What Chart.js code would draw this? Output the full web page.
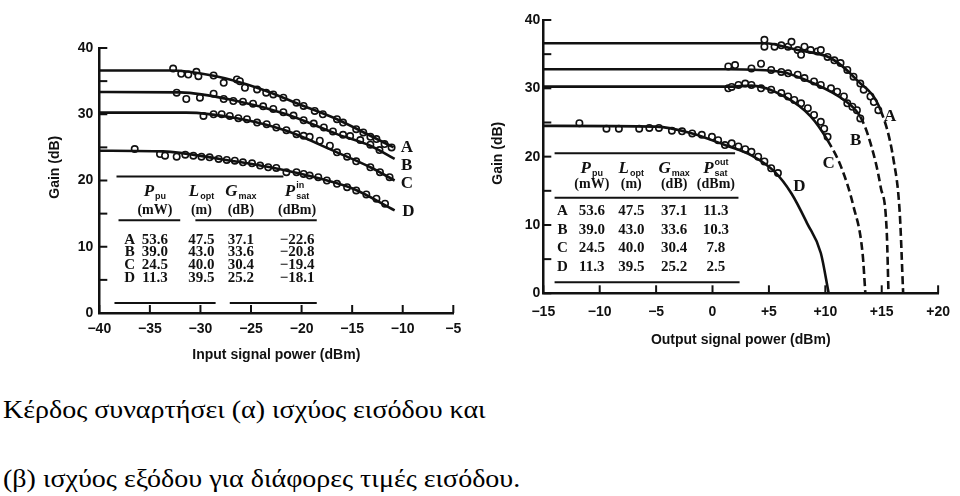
<!DOCTYPE html>
<html>
<head>
<meta charset="utf-8">
<script src="https://cdn.jsdelivr.net/npm/chart.js@4"></script>
<style>
  body { margin: 0; background: #fff; width: 960px; height: 496px; position: relative; overflow: hidden; }
  .box { position: absolute; }
  #boxIn { left: 20px; top: 30px; width: 460px; height: 350px; }
  #boxOut { left: 480px; top: 0; width: 480px; height: 370px; }
  .cap { position: absolute; left: 3px; font-family: 'Liberation Serif', 'Times New Roman', serif; font-size: 25px; line-height: 25px; color: #000; white-space: nowrap; transform: scaleX(1.12); transform-origin: left top; }
</style>
</head>
<body>
<div class="box" id="boxIn"><canvas id="gainIn"></canvas></div>
<div class="box" id="boxOut"><canvas id="gainOut"></canvas></div>
<div class="cap" style="top:397px">Κέρδος συναρτήσει (α) ισχύος εισόδου και</div>
<div class="cap" style="top:466px">(β) ισχύος εξόδου για διάφορες τιμές εισόδου.</div>
<script>
const curveNames = ['A', 'B', 'C', 'D'];
const gainTickLabels = ['0', '', '10', '', '20', '', '30', '', '40'];

// (α) gain vs input signal power
const inTickLabels = ['−40', '−35', '−30', '−25', '−20', '−15', '−10', '−5'];
const inLineA = [[-40, 36.6], [-33, 36.6], [-28.7, 35.8], [-24.4, 34], [-19.8, 31.25], [-16.5, 29.25], [-13.2, 26.75], [-10.9, 25]];
const inLineB = [[-40, 33.35], [-32, 33.3], [-26.4, 32], [-21.5, 30], [-16.5, 27], [-13.2, 25.25], [-10.8, 23.25]];
const inLineC = [[-40, 30.25], [-31.4, 30.25], [-26.4, 29.4], [-21.5, 27.5], [-16.5, 24.25], [-13.2, 22], [-10.8, 20]];
const inLineD = [[-40, 24.5], [-33.7, 24.4], [-28.1, 23.25], [-23.1, 22], [-18.1, 20.25], [-14.9, 18.75], [-10.8, 15.5]];
const inDotsA = [[-32.7, 36.9], [-31.9, 36.1], [-31.2, 36], [-30.4, 36.4], [-30.2, 35.75], [-28.7, 35.85], [-27.7, 34.75], [-26.4, 35.25], [-26.1, 35], [-25.6, 34], [-24.4, 33.75], [-23.5, 33.25], [-22.8, 33], [-21.8, 32.5], [-20.5, 31.75], [-19.8, 31.25], [-18.7, 30.5], [-17.9, 30], [-16.5, 29.25], [-15.9, 28.75], [-14.6, 27.75], [-13.9, 27.25], [-13.2, 26.6], [-12.6, 26.25], [-11.8, 25.5], [-11.1, 25]];
const inDotsB = [[-32.35, 33.25], [-31.4, 32.3], [-30.05, 32.5], [-28.7, 33.1], [-27.7, 32.3], [-26.75, 32], [-25.8, 31.9], [-24.8, 31.6], [-23.8, 31.2], [-22.8, 30.8], [-21.8, 30.3], [-20.8, 29.8], [-19.8, 29.1], [-18.8, 28.6], [-17.8, 28], [-16.9, 27.4], [-15.9, 26.9], [-15.2, 26.7], [-14.2, 26.1], [-13.2, 25.4], [-12.3, 24.6]];
const inDotsC = [[-29.7, 29.75], [-28.7, 30], [-27.9, 30], [-27.1, 29.75], [-26.25, 29.4], [-25.4, 29.25], [-24.4, 28.75], [-23.45, 28.5], [-22.5, 28], [-21.5, 27.6], [-20.5, 27], [-19.8, 26.75], [-19.2, 26.6], [-18.2, 26], [-17.2, 25.25], [-16.5, 24.25], [-15.5, 23.6], [-14.6, 22.9], [-13.2, 22], [-12.25, 21.25], [-11.3, 20.5]];
const inDotsD = [[-36.5, 24.75], [-34, 24], [-33.5, 23.75], [-32.35, 23.6], [-31.5, 23.9], [-30.7, 23.75], [-29.9, 23.6], [-29.1, 23.5], [-28.2, 23.25], [-27.4, 23.1], [-26.6, 23], [-25.8, 22.75], [-24.9, 22.6], [-24.1, 22.25], [-23.3, 22], [-22.5, 21.9], [-21.5, 21.25], [-20.5, 21.25], [-19.8, 21], [-19.2, 20.75], [-18.35, 20.5], [-17.5, 20], [-16.5, 19.5], [-15.5, 19], [-14.6, 18.5], [-13.6, 17.9], [-12.6, 17.25], [-11.75, 16.5]];

// (β) gain vs output signal power
const outTickLabels = ['−15', '−10', '−5', '0', '+5', '+10', '+15', '+20'];
const outLineA = [[-15, 36.6], [4.6, 36.6], [7.55, 35.6], [10.5, 34.4], [12.8, 31.2], [14.9, 26.8], [16.05, 19.5], [16.6, 11.7], [16.9, 0]];
const outLineB = [[-15, 32.8], [1.4, 32.8], [6.1, 32.4], [9, 30.7], [11.65, 28.3], [13.1, 25.85], [14, 22], [14.9, 15.6], [15.45, 8.8], [15.6, 0]];
const outLineC = [[-15, 30.25], [1.5, 30.25], [3.45, 30.4], [6.4, 28.8], [8.7, 25.9], [10.2, 22.4], [11.4, 18.5], [12.5, 12.7], [13.3, 5.9], [13.55, 0]];
const outLineD = [[-15, 24.5], [-5, 24.4], [-1.8, 23.4], [1.1, 21.7], [3.45, 20.2], [5.5, 17.8], [7, 14.6], [8.4, 10.2], [9.6, 5.9], [10.3, 0]];
const outDashFrom = [14.9, 13.1, 10.2, null];
const outDotsA = [[4.6, 37.1], [4.6, 36.1], [5.5, 36.1], [6.1, 36.3], [6.7, 36.1], [7, 36.8], [7.55, 35.6], [7.85, 34.9], [8.15, 36.1], [8.7, 35.6], [9.3, 35.4], [9.6, 35.6], [10.2, 34.6], [10.8, 34.1], [11.35, 33.7], [11.95, 32.7], [12.5, 31.7], [13.1, 30.7], [13.4, 29.8], [14, 28.8], [14.3, 28], [14.7, 26.8]];
const outDotsB = [[1.4, 33.2], [2, 33.4], [3.45, 32.9], [4.3, 33.6], [5.2, 32.7], [6.1, 32.4], [6.7, 32.2], [7.55, 32], [8.15, 31.5], [9, 31], [9.6, 30.5], [10.5, 30], [11.05, 29.5], [11.65, 28.8], [11.95, 27.8], [12.4, 27.3], [12.8, 26.8], [13.1, 25.6]];
const outDotsC = [[1.4, 30], [1.7, 30.2], [2.3, 30.5], [2.9, 30.7], [3.45, 30.5], [4.3, 30], [5.2, 29.8], [6.1, 29.3], [6.7, 28.8], [7.25, 28.3], [7.85, 27.8], [8.45, 27.1], [9, 26.1], [9.6, 25.1], [9.9, 24.1], [10.2, 22.9]];
const outDotsD = [[-11.8, 24.9], [-9.4, 24.1], [-8.3, 24.1], [-6.5, 24.1], [-5.6, 24.2], [-4.75, 24.2], [-3.6, 23.8], [-2.7, 23.7], [-1.8, 23.4], [-0.95, 23.2], [-0.05, 22.9], [0.5, 22.4], [1.1, 21.7], [1.7, 21.95], [2.3, 21.5], [2.9, 21.1], [3.45, 20.7], [4.05, 20], [4.6, 19.3], [5.2, 18.3], [5.8, 17.6]];

// table inside both panels
const pumpPower = [53.6, 39.0, 24.5, 11.3];
const optLength = [47.5, 43.0, 40.0, 39.5];
const maxGain = [37.1, 33.6, 30.4, 25.2];
const satInput = [-22.6, -20.8, -19.4, -18.1];
const satOutput = [11.3, 10.3, 7.8, 2.5];
const tableUnits = ['(mW)', '(m)', '(dB)', '(dBm)'];

const black = '#111';
const sansFont = "'Liberation Sans', Arial, sans-serif";
const serifFont = "'Liberation Serif', 'DejaVu Serif', serif";
const fmt = v => (v < 0 ? '−' + (-v).toFixed(1) : v.toFixed(1));

function symbol(ctx, s, cx, cy) {
    ctx.font = 'italic bold 17px ' + serifFont;
    const w = ctx.measureText(s.main).width;
    ctx.font = 'bold 9px ' + sansFont;
    const sw = Math.max(ctx.measureText(s.sub || '').width, ctx.measureText(s.sup || '').width);
    const x0 = cx - (w + sw + 1) / 2;
    ctx.textAlign = 'left';
    ctx.font = 'italic bold 17px ' + serifFont;
    ctx.fillText(s.main, x0, cy);
    ctx.font = 'bold 9px ' + sansFont;
    if (s.sub) ctx.fillText(s.sub, x0 + w + 1, cy + 5);
    if (s.sup) ctx.fillText(s.sup, x0 + w + 1, cy - 6);
    ctx.textAlign = 'center';
}

const figureText = {
    id: 'figureText',
    afterDraw(chart, args, t) {
        const {ctx, chartArea, scales: {x, y}} = chart;
        const px = v => x.getPixelForValue(v), py = v => y.getPixelForValue(v);
        ctx.save();
        ctx.fillStyle = black;
        ctx.strokeStyle = black;
        // inward tick marks
        ctx.lineWidth = 2;
        x.ticks.forEach(tk => {
            const p = px(tk.value);
            ctx.beginPath(); ctx.moveTo(p, chartArea.bottom); ctx.lineTo(p, chartArea.bottom - 8); ctx.stroke();
        });
        y.ticks.forEach(tk => {
            const p = py(tk.value);
            ctx.beginPath(); ctx.moveTo(chartArea.left, p); ctx.lineTo(chartArea.left + 8, p); ctx.stroke();
        });
        // y axis title
        ctx.save();
        ctx.translate(t.yTitleX, py(t.yTitleY));
        ctx.rotate(-Math.PI / 2);
        ctx.font = 'bold 14px ' + sansFont;
        ctx.textAlign = 'center';
        ctx.textBaseline = 'middle';
        ctx.fillText('Gain (dB)', 0, 0);
        ctx.restore();
        // table rules
        t.rules.forEach(r => {
            ctx.beginPath(); ctx.moveTo(px(r[1]), py(r[0])); ctx.lineTo(px(r[2]), py(r[0])); ctx.stroke();
        });
        ctx.textAlign = 'center';
        ctx.textBaseline = 'middle';
        t.heads.forEach((h, i) => symbol(ctx, h, px(t.cols[i + 1]), py(t.headY)));
        ctx.font = 'bold 14px ' + serifFont;
        tableUnits.forEach((u, i) => ctx.fillText(u, px(t.cols[i + 1]), py(t.unitY)));
        ctx.font = 'bold 15px ' + serifFont;
        curveNames.forEach((n, r) => {
            const yy = py(t.rowY[r]);
            ctx.fillText(n, px(t.cols[0]), yy);
            t.columns.forEach((col, c) => ctx.fillText(fmt(col[r]), px(t.cols[c + 1]), yy));
        });
        // curve letters
        ctx.font = 'bold 17px ' + serifFont;
        t.letters.forEach((p, i) => ctx.fillText(curveNames[i], px(p[0]), py(p[1])));
        ctx.restore();
    }
};

function lineSet(pts, dashFrom) {
    return {
        data: pts.map(p => ({x: p[0], y: p[1]})),
        showLine: true, borderColor: black, borderWidth: 2.6, pointRadius: 0,
        cubicInterpolationMode: 'monotone', fill: false,
        segment: { borderDash: c => (dashFrom != null && c.p0.parsed.x >= dashFrom ? [8, 4] : undefined) }
    };
}
function dotSet(pts) {
    return {
        data: pts.map(p => ({x: p[0], y: p[1]})),
        showLine: false, pointRadius: 3.2, pointBorderWidth: 1.6,
        pointBackgroundColor: '#fff', pointBorderColor: black
    };
}

function makeChart(id, c) {
    const tickFont = {family: sansFont, size: 14, weight: 'bold'};
    return new Chart(document.getElementById(id), {
        type: 'scatter',
        data: { datasets: c.datasets },
        options: {
            responsive: true, maintainAspectRatio: false, animation: false, events: [],
            layout: { padding: c.pad },
            plugins: { legend: { display: false }, tooltip: { enabled: false }, figureText: c.table },
            scales: {
                x: {
                    type: 'linear', min: c.xMin, max: c.xMax,
                    afterFit: s => { s.height = c.xHeight; },
                    grid: { drawOnChartArea: false, drawTicks: false },
                    border: { color: black, width: 2.5 },
                    ticks: { stepSize: 5, padding: c.xTickPad, color: black, font: tickFont, maxRotation: 0,
                        callback: (v, i) => c.xLabels[i] },
                    title: { display: true, text: c.xTitle, color: black, font: tickFont, padding: {bottom: c.xTitlePad} }
                },
                y: {
                    min: 0, max: 40,
                    afterFit: s => { s.width = c.yWidth; },
                    grid: { drawOnChartArea: false, drawTicks: false },
                    border: { color: black, width: 2.5 },
                    ticks: { stepSize: 5, padding: c.yTickPad, color: black, font: tickFont,
                        callback: (v, i) => gainTickLabels[i] }
                }
            }
        },
        plugins: [figureText]
    });
}

makeChart('gainIn', {
    xMin: -40, xMax: -5, xLabels: inTickLabels, xTitle: 'Input signal power (dBm)',
    pad: {top: 18, right: 26.7, left: 0, bottom: 0},
    xHeight: 67, xTickPad: 8, xTitlePad: 16, yWidth: 79.3, yTickPad: 6,
    datasets: [lineSet(inLineA), lineSet(inLineB), lineSet(inLineC), lineSet(inLineD),
        dotSet(inDotsA), dotSet(inDotsB), dotSet(inDotsC), dotSet(inDotsD)],
    table: {
        yTitleX: 35, yTitleY: 22,
        cols: [-37, -34.5, -29.9, -26, -20.45], headY: 18.3, unitY: 15.5, rowY: [11, 9.25, 7.25, 5.25],
        rules: [[20.6, -38.3, -21.8], [14, -38.1, -32], [14, -30.5, -18.5], [1.5, -38.5, -28.5], [1.5, -27.1, -18.5]],
        heads: [{main: 'P', sub: 'pu'}, {main: 'L', sub: 'opt'}, {main: 'G', sub: 'max'}, {main: 'P', sub: 'sat', sup: 'in'}],
        columns: [pumpPower, optLength, maxGain, satInput],
        letters: [[-9.6, 25], [-9.6, 22.25], [-9.6, 19.5], [-9.45, 15.25]]
    }
});

makeChart('gainOut', {
    xMin: -15, xMax: 20, xLabels: outTickLabels, xTitle: 'Output signal power (dBm)',
    pad: {top: 20, right: 18.3, left: 0, bottom: 0},
    xHeight: 76.7, xTickPad: 10, xTitlePad: 21, yWidth: 63.3, yTickPad: 3,
    datasets: [lineSet(outLineA, outDashFrom[0]), lineSet(outLineB, outDashFrom[1]), lineSet(outLineC, outDashFrom[2]), lineSet(outLineD, outDashFrom[3]),
        dotSet(outDotsA), dotSet(outDotsB), dotSet(outDotsC), dotSet(outDotsD)],
    table: {
        yTitleX: 18, yTitleY: 20.5,
        cols: [-13.3, -10.7, -7.2, -3.4, 0.3], headY: 18.3, unitY: 15.9, rowY: [12, 9.3, 6.6, 3.9],
        rules: [[20.5, -14, 2], [14, -14, 2.3], [1.6, -14, 2.4]],
        heads: [{main: 'P', sub: 'pu'}, {main: 'L', sub: 'opt'}, {main: 'G', sub: 'max'}, {main: 'P', sub: 'sat', sup: 'out'}],
        columns: [pumpPower, optLength, maxGain, satOutput],
        letters: [[15.75, 25.85], [12.7, 22.4], [10.3, 19], [7.7, 15.6]]
    }
});
</script>
</body>
</html>
